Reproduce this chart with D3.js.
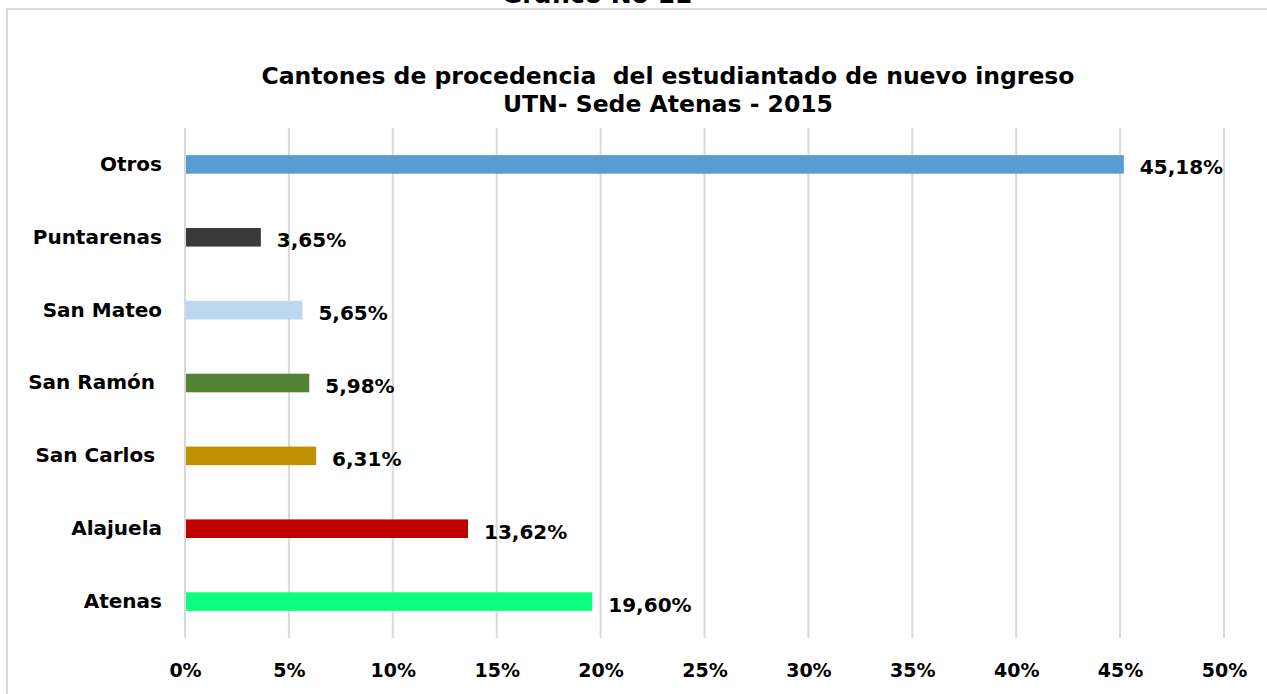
<!DOCTYPE html>
<html>
<head>
<meta charset="utf-8">
<script src="https://cdn.jsdelivr.net/npm/d3@7"></script>
<style>
  body { margin: 0; background: #fff; }
  text { font-family: "DejaVu Sans", sans-serif; font-weight: bold; fill: #000; white-space: pre; }
</style>
</head>
<body>
<div id="chart"></div>
<script>
// data
var categories = ["Otros", "Puntarenas", "San Mateo", "San Ramón ", "San Carlos ", "Alajuela", "Atenas"];
var values = [45.18, 3.65, 5.65, 5.98, 6.31, 13.62, 19.60];
var barColors = ["#5b9bd5", "#3b3838", "#bdd7ee", "#538135", "#bf9000", "#c00000", "#0dff80"];
var ticks = [0, 5, 10, 15, 20, 25, 30, 35, 40, 45, 50];
var titleLines = ["Cantones de procedencia  del estudiantado de nuevo ingreso", "UTN- Sede Atenas - 2015"];

var W = 1267, H = 694;
var m = {top: 128, left: 185, right: 43, bottom: 56};

var svg = d3.select("#chart").append("svg")
    .attr("width", W)
    .attr("height", H);

// heading above the chart frame, cut by the page top
svg.append("text")
    .attr("x", 597).attr("y", 3)
    .attr("text-anchor", "middle")
    .style("font-size", "25px")
    .text("Gráfico No 11");

// chart frame (only top and left show)
svg.append("path")
    .attr("d", "M7," + (H + 5) + "V9H" + (W + 5))
    .attr("fill", "none")
    .attr("stroke", "#d9d9d9")
    .attr("stroke-width", 2);

svg.selectAll(".title").data(titleLines).enter().append("text")
    .attr("class", "title")
    .attr("x", 668)
    .attr("y", function(d, i){ return 84 + i * 28; })
    .attr("text-anchor", "middle")
    .style("font-size", "23.5px")
    .text(function(d){ return d; });

var x = d3.scaleLinear()
    .domain([0, 50])
    .range([m.left, W - m.right]);

var y = d3.scaleBand()
    .domain(categories)
    .range([m.top, H - m.bottom])
    .paddingInner(0.745)
    .paddingOuter(0.3725);

// vertical gridlines
svg.append("g")
    .selectAll("line")
    .data(ticks)
    .enter().append("line")
    .attr("x1", function(d){ return x(d); })
    .attr("x2", function(d){ return x(d); })
    .attr("y1", m.top)
    .attr("y2", H - m.bottom)
    .attr("stroke", "#d9d9d9")
    .attr("stroke-width", 2);

// x axis labels
var gx = svg.append("g")
    .attr("transform", "translate(0," + (H - m.bottom) + ")")
    .call(d3.axisBottom(x).tickValues(ticks).tickSize(0).tickPadding(26)
      .tickFormat(function(d){ return d + "%"; }));
gx.select(".domain").remove();
gx.selectAll("text")
    .style("font-family", "'DejaVu Sans', sans-serif")
    .style("font-weight", "bold")
    .style("font-size", "19px")
    .attr("fill", "#000");

// category labels
var gy = svg.append("g")
    .attr("transform", "translate(" + m.left + ",0)")
    .call(d3.axisLeft(y).tickSize(0).tickPadding(23));
gy.select(".domain").remove();
gy.selectAll("text")
    .style("font-family", "'DejaVu Sans', sans-serif")
    .style("font-weight", "bold")
    .style("font-size", "20px")
    .style("white-space", "pre")
    .attr("fill", "#000");

var rows = svg.selectAll(".bar")
    .data(categories)
    .enter().append("g")
    .attr("class", "bar");

rows.append("rect")
    .attr("x", x(0) + 1)
    .attr("y", function(d){ return y(d); })
    .attr("height", y.bandwidth())
    .attr("width", function(d, i){ return x(values[i]) - x(0) - 1; })
    .attr("fill", function(d, i){ return barColors[i]; });

rows.append("text")
    .attr("x", function(d, i){ return x(values[i]) + 16; })
    .attr("y", function(d){ return y(d) + y.bandwidth() / 2 + 3; })
    .attr("dy", "0.35em")
    .style("font-size", "20px")
    .text(function(d, i){ return values[i].toFixed(2).replace(".", ",") + "%"; });
</script>
</body>
</html>
